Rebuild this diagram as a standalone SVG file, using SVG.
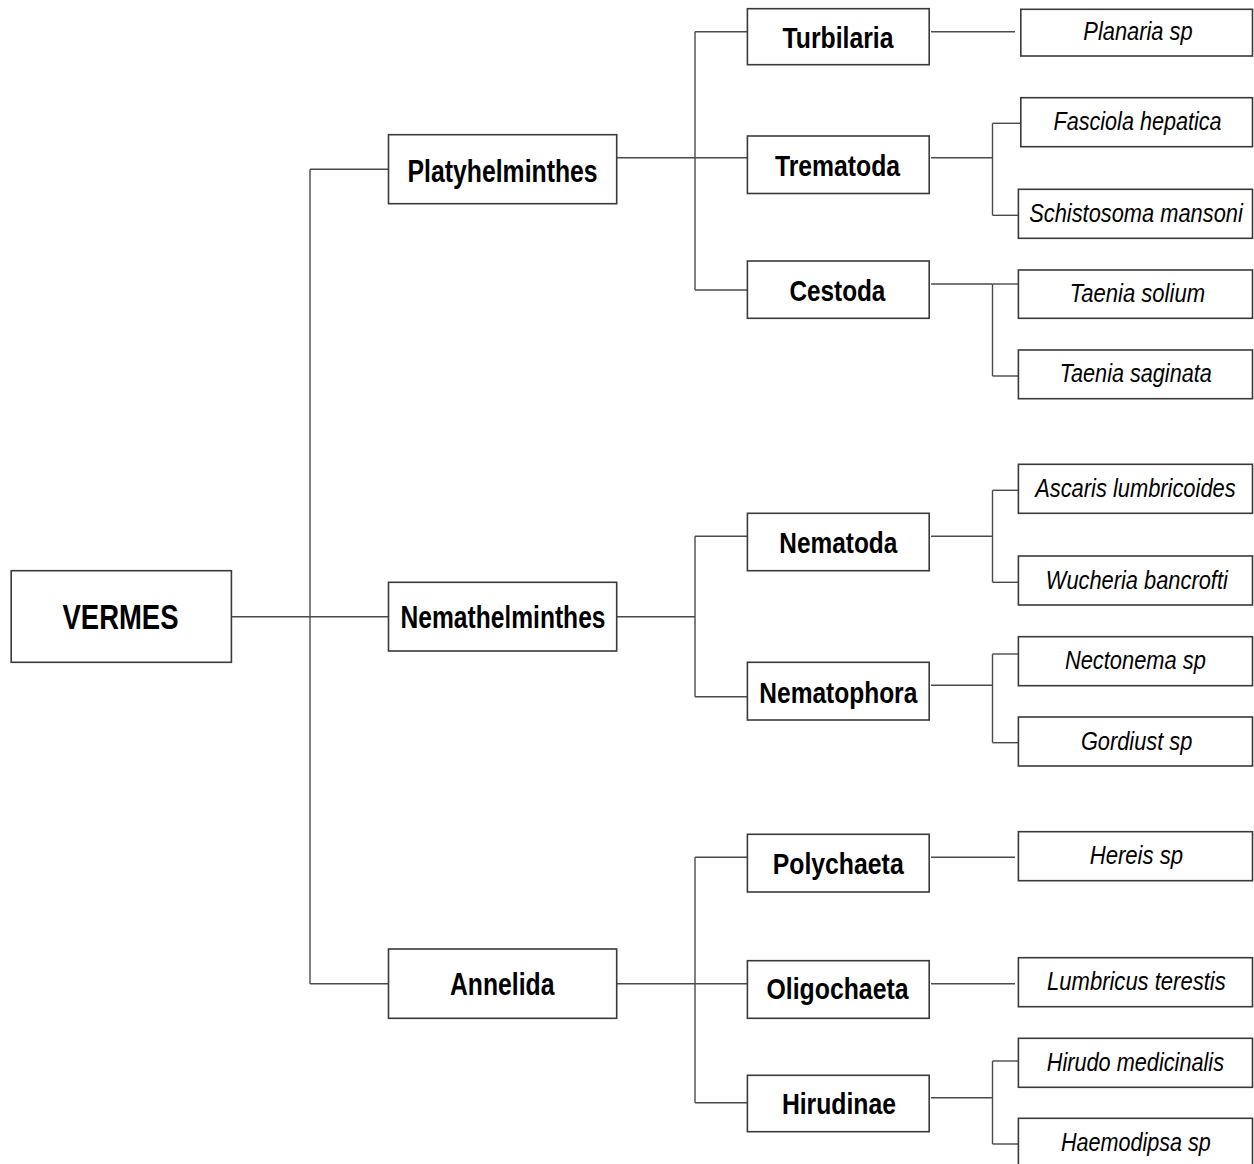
<svg xmlns="http://www.w3.org/2000/svg" width="1254" height="1164" viewBox="0 0 1254 1164">
<style>
  .box { fill: #ffffff; stroke: #3a3a3a; stroke-width: 1.6; }
  .conn { fill: none; stroke: #4a4a4a; stroke-width: 1.4; }
  .b { font-family: "Liberation Sans Narrow", "Liberation Sans", Arial, sans-serif; font-weight: bold; fill: #000; text-anchor: middle; }
  .p { font-size: 32px; }
  .c { font-size: 30px; }
  .s { font-family: "Liberation Sans Narrow", "Liberation Sans", Arial, sans-serif; font-style: italic; font-size: 26px; fill: #000; text-anchor: middle; }
</style>
<rect width="1254" height="1164" fill="#ffffff"/>

<g id="connectors">
  <!-- level 1 -->
  <path class="conn" d="M231.4 616.7 H388.5"/>
  <path class="conn" d="M310 169.3 V983.7"/>
  <path class="conn" d="M310 169.3 H388.5"/>
  <path class="conn" d="M310 983.7 H388.5"/>
  <!-- Platyhelminthes -->
  <path class="conn" d="M616.7 157.7 H747.4"/>
  <path class="conn" d="M695 31.7 V290"/>
  <path class="conn" d="M695 31.7 H747.4"/>
  <path class="conn" d="M695 290 H747.4"/>
  <!-- Nemathelminthes -->
  <path class="conn" d="M616.7 616.7 H695"/>
  <path class="conn" d="M695 536.3 V696.7"/>
  <path class="conn" d="M695 536.3 H747.4"/>
  <path class="conn" d="M695 696.7 H747.4"/>
  <!-- Annelida -->
  <path class="conn" d="M616.7 983.7 H747.4"/>
  <path class="conn" d="M695 857.3 V1102.7"/>
  <path class="conn" d="M695 857.3 H747.4"/>
  <path class="conn" d="M695 1102.7 H747.4"/>
  <!-- Turbilaria -->
  <path class="conn" d="M931 31.7 H1015"/>
  <!-- Trematoda -->
  <path class="conn" d="M931 157.7 H992.5"/>
  <path class="conn" d="M992.5 123.3 V215.3"/>
  <path class="conn" d="M992.5 123.3 H1020.8"/>
  <path class="conn" d="M992.5 215.3 H1018.4"/>
  <!-- Cestoda -->
  <path class="conn" d="M931 284 H992.5"/>
  <path class="conn" d="M992.5 284 V376"/>
  <path class="conn" d="M992.5 284 H1018.4"/>
  <path class="conn" d="M992.5 376 H1018.4"/>
  <!-- Nematoda -->
  <path class="conn" d="M931 536.3 H992.5"/>
  <path class="conn" d="M992.5 490.3 V582.3"/>
  <path class="conn" d="M992.5 490.3 H1018.4"/>
  <path class="conn" d="M992.5 582.3 H1018.4"/>
  <!-- Nematophora -->
  <path class="conn" d="M931 685.3 H992.5"/>
  <path class="conn" d="M992.5 654 V742.7"/>
  <path class="conn" d="M992.5 654 H1018.4"/>
  <path class="conn" d="M992.5 742.7 H1018.4"/>
  <!-- Polychaeta -->
  <path class="conn" d="M931 857.3 H1015"/>
  <!-- Oligochaeta -->
  <path class="conn" d="M931 983.7 H1015"/>
  <!-- Hirudinae -->
  <path class="conn" d="M931 1097.7 H992.5"/>
  <path class="conn" d="M992.5 1061 V1144"/>
  <path class="conn" d="M992.5 1061 H1018.4"/>
  <path class="conn" d="M992.5 1144 H1018.4"/>
</g>

<g id="vermes">
  <rect class="box" x="11.2" y="570.7" width="220.2" height="91.6"/>
  <text class="b" x="120.5" y="629" font-size="35" textLength="116" lengthAdjust="spacingAndGlyphs">VERMES</text>
</g>

<g id="platyhelminthes">
  <rect class="box" x="388.5" y="134.7" width="228.2" height="69"/>
  <text class="b p" x="502.6" y="181.7" textLength="190" lengthAdjust="spacingAndGlyphs">Platyhelminthes</text>
</g>
<g id="nemathelminthes">
  <rect class="box" x="388.5" y="582.3" width="228.2" height="68.7"/>
  <text class="b p" x="503" y="628.3" textLength="205" lengthAdjust="spacingAndGlyphs">Nemathelminthes</text>
</g>
<g id="annelida">
  <rect class="box" x="388.5" y="949" width="228.2" height="69.3"/>
  <text class="b p" x="502.2" y="995" textLength="104.4" lengthAdjust="spacingAndGlyphs">Annelida</text>
</g>

<g id="turbilaria">
  <rect class="box" x="747.4" y="8.7" width="181.8" height="56"/>
  <text class="b c" x="838" y="47.7" textLength="111" lengthAdjust="spacingAndGlyphs">Turbilaria</text>
</g>
<g id="trematoda">
  <rect class="box" x="747.4" y="136" width="181.8" height="57.5"/>
  <text class="b c" x="837.5" y="175.7" textLength="125" lengthAdjust="spacingAndGlyphs">Trematoda</text>
</g>
<g id="cestoda">
  <rect class="box" x="747.4" y="261" width="181.8" height="57.3"/>
  <text class="b c" x="837.4" y="301" textLength="96" lengthAdjust="spacingAndGlyphs">Cestoda</text>
</g>
<g id="nematoda">
  <rect class="box" x="747.4" y="513.3" width="181.8" height="57.4"/>
  <text class="b c" x="838.3" y="553.3" textLength="118" lengthAdjust="spacingAndGlyphs">Nematoda</text>
</g>
<g id="nematophora">
  <rect class="box" x="747.4" y="662.3" width="181.8" height="57.7"/>
  <text class="b c" x="838.3" y="702.7" textLength="158" lengthAdjust="spacingAndGlyphs">Nematophora</text>
</g>
<g id="polychaeta">
  <rect class="box" x="747.4" y="834.3" width="181.8" height="57.7"/>
  <text class="b c" x="838.2" y="874" textLength="131" lengthAdjust="spacingAndGlyphs">Polychaeta</text>
</g>
<g id="oligochaeta">
  <rect class="box" x="747.4" y="960.7" width="181.8" height="57.6"/>
  <text class="b c" x="837.5" y="999.3" textLength="142" lengthAdjust="spacingAndGlyphs">Oligochaeta</text>
</g>
<g id="hirudinae">
  <rect class="box" x="747.4" y="1075.3" width="181.8" height="56.4"/>
  <text class="b c" x="838.9" y="1114.3" textLength="114" lengthAdjust="spacingAndGlyphs">Hirudinae</text>
</g>

<g id="planaria-sp">
  <rect class="box" x="1020.8" y="9.3" width="231.7" height="46.7"/>
  <text class="s" x="1138" y="40" textLength="109.3" lengthAdjust="spacingAndGlyphs">Planaria sp</text>
</g>
<g id="fasciola-hepatica">
  <rect class="box" x="1020.8" y="97.7" width="231.7" height="49"/>
  <text class="s" x="1137.5" y="130" textLength="168" lengthAdjust="spacingAndGlyphs">Fasciola hepatica</text>
</g>
<g id="schistosoma-mansoni">
  <rect class="box" x="1018.4" y="189.3" width="234.1" height="49"/>
  <text class="s" x="1136" y="222" textLength="213.7" lengthAdjust="spacingAndGlyphs">Schistosoma mansoni</text>
</g>
<g id="taenia-solium">
  <rect class="box" x="1018.4" y="270" width="234.1" height="48.3"/>
  <text class="s" x="1137.4" y="302.2" textLength="135.3" lengthAdjust="spacingAndGlyphs">Taenia solium</text>
</g>
<g id="taenia-saginata">
  <rect class="box" x="1018.4" y="350" width="234.1" height="48.7"/>
  <text class="s" x="1135.8" y="382.4" textLength="152" lengthAdjust="spacingAndGlyphs">Taenia saginata</text>
</g>
<g id="ascaris-lumbricoides">
  <rect class="box" x="1018.4" y="464.3" width="234.1" height="49"/>
  <text class="s" x="1135.4" y="496.8" textLength="200.5" lengthAdjust="spacingAndGlyphs">Ascaris lumbricoides</text>
</g>
<g id="wucheria-bancrofti">
  <rect class="box" x="1018.4" y="556" width="234.1" height="49"/>
  <text class="s" x="1136.8" y="588.5" textLength="182" lengthAdjust="spacingAndGlyphs">Wucheria bancrofti</text>
</g>
<g id="nectonema-sp">
  <rect class="box" x="1018.4" y="636.7" width="234.1" height="49"/>
  <text class="s" x="1135.4" y="669.2" textLength="141" lengthAdjust="spacingAndGlyphs">Nectonema sp</text>
</g>
<g id="gordiust-sp">
  <rect class="box" x="1018.4" y="717" width="234.1" height="49"/>
  <text class="s" x="1136.6" y="749.5" textLength="111.4" lengthAdjust="spacingAndGlyphs">Gordiust sp</text>
</g>
<g id="hereis-sp">
  <rect class="box" x="1018.4" y="831.7" width="234.1" height="49"/>
  <text class="s" x="1136.4" y="864.2" textLength="93.5" lengthAdjust="spacingAndGlyphs">Hereis sp</text>
</g>
<g id="lumbricus-terestis">
  <rect class="box" x="1018.4" y="957.7" width="234.1" height="49"/>
  <text class="s" x="1136.4" y="990.2" textLength="178.7" lengthAdjust="spacingAndGlyphs">Lumbricus terestis</text>
</g>
<g id="hirudo-medicinalis">
  <rect class="box" x="1018.4" y="1038.3" width="234.1" height="49"/>
  <text class="s" x="1135.4" y="1070.8" textLength="177.3" lengthAdjust="spacingAndGlyphs">Hirudo medicinalis</text>
</g>
<g id="haemodipsa-sp">
  <rect class="box" x="1018.4" y="1118.3" width="234.1" height="60"/>
  <text class="s" x="1135.9" y="1151" textLength="149.7" lengthAdjust="spacingAndGlyphs">Haemodipsa sp</text>
</g>
</svg>
